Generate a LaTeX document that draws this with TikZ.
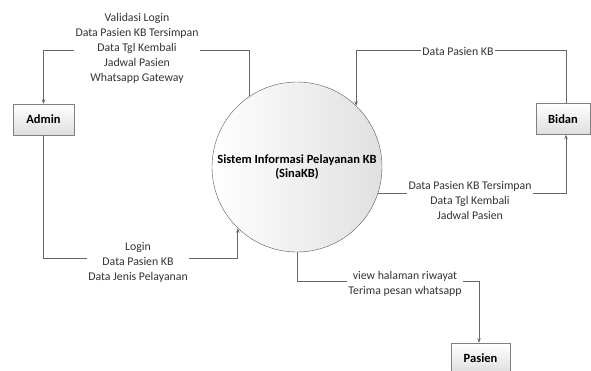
\documentclass[tikz,border=0pt]{standalone}
\usepackage{fontspec}
\setmainfont{Carlito}
\usetikzlibrary{arrows.meta}
\tikzstyle{entity} = [rectangle, minimum height=31pt, inner sep=0pt, draw=black!50, top color=white, bottom color=black!13, font=\fontsize{12.5}{14}\selectfont\bfseries]
\tikzstyle{process} = [circle, minimum size=170pt, inner sep=0pt, draw=black!65, left color=white, right color=black!12, align=center, font=\fontsize{12.5}{14.5}\selectfont\bfseries]
\tikzstyle{flow} = [draw=black!60, line width=0.8pt, -{Stealth[length=4.5pt,width=3.5pt]}]
\tikzstyle{flowlabel} = [fill=white, align=center, text=black!80, inner sep=1.5pt, font=\fontsize{11.8}{15}\selectfont]

\begin{document}
\begin{tikzpicture}[x=1pt, y=-1pt]
    \useasboundingbox (0,0) rectangle (591,370);

    \node (sis) [process] at (297,167) {Sistem Informasi Pelayanan KB\\(SinaKB)};
    \node (admin) [entity, minimum width=61pt] at (43.5,119.5) {Admin};
    \node (bidan) [entity, minimum width=54pt] at (563,119) {Bidan};
    \node (pasien) [entity, minimum width=59pt] at (480.5,358.5) {Pasien};

    \coordinate (toprow) at (0,50);
    \coordinate (lowrow) at (0,258);
    \coordinate (pasrow) at (0,281);
    \coordinate (bidanx) at (566,0);
    \coordinate (pasienx) at (479,0);

    \draw[flow] (sis.124) -- (sis.124 |- toprow) -| (admin.north);
    \draw[flow] (admin.south) |- (lowrow -| sis.226) -- (sis.226);
    \draw[flow] (bidanx |- bidan.north) |- (toprow -| sis.46) -- (sis.46);
    \draw[flow] (sis.-18) -| (bidanx |- bidan.south);
    \draw[flow] (sis.south) |- (pasrow -| pasienx) -- (pasienx |- pasien.north);

    \node (toadmin) [flowlabel] at (137,48) {Validasi Login\\Data Pasien KB Tersimpan\\Data Tgl Kembali\\Jadwal Pasien\\Whatsapp Gateway};
    \node (fromadmin) [flowlabel] at (138,262) {Login\\Data Pasien KB\\Data Jenis Pelayanan};
    \node (frombidan) [flowlabel] at (458,51) {Data Pasien KB};
    \node (tobidan) [flowlabel] at (470,200) {Data Pasien KB Tersimpan\\Data Tgl Kembali\\Jadwal Pasien};
    \node (topasien) [flowlabel] at (405,284) {view halaman riwayat\\Terima pesan whatsapp};
  \end{tikzpicture}
\end{document}
